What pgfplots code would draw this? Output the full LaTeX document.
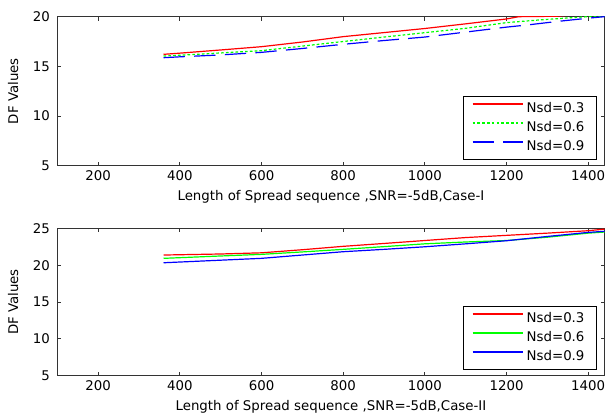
\documentclass[border=0pt]{standalone}
\usepackage{fontspec}
\setmainfont{DejaVu Sans}
\usepackage{pgfplots}
\pgfplotsset{compat=1.18}

\definecolor{mred}{RGB}{255,0,0}
\definecolor{mgreen}{RGB}{0,255,0}
\definecolor{mblue}{RGB}{0,0,255}

\pgfplotsset{
  dfax/.style={
    scale only axis,
    width=410.25pt,
    xmin=100, xmax=1440,
    xtick={200,400,...,1400},
    tick align=inside,
    major tick length=3pt,
    axis line style={line width=0.6pt, black!80},
    every tick/.style={black!80, line width=0.6pt},
    /pgf/number format/assume math mode=true,
    /pgf/number format/1000 sep={},
    ticklabel style={font=\fontsize{10}{12}\selectfont},
    yticklabel style={xshift=-2pt},
    ylabel={DF Values},
    ylabel style={at={(axis description cs:0,0.5)}, anchor=center, rotate=0, yshift=33.2pt},
    xlabel style={at={(axis description cs:0.5,0)}, anchor=center, yshift=-23.5pt},
    legend cell align=left,
    legend style={
      at={(0.986,0.038)}, anchor=south east,
      draw=black, line width=0.6pt, fill=white,
      inner xsep=6.5pt, inner ysep=2.3pt, row sep=0pt,
      font=\fontsize{10}{12}\selectfont,
      nodes={inner xsep=2.5pt, inner ysep=0pt, text height=9.5pt, text depth=4.75pt},
    },
    legend image code/.code={\draw[#1, line width=1.2pt] (0pt,3.75pt) -- (37.5pt,3.75pt);},
    clip=true,
  },
  s1/.style={draw=mred, line width=0.9pt},
  s2/.style={draw=mgreen, line width=0.9pt},
  s3/.style={draw=mblue, line width=0.9pt},
}

\begin{document}
\begin{tikzpicture}[font=\fontsize{10}{12}\selectfont]
\path[use as bounding box] (-43pt,12.5pt) rectangle (411.35pt,-298.7pt);

\begin{axis}[dfax,
  at={(0pt,0pt)}, anchor=north west,
  height=111.75pt,
  ymin=5, ymax=20, ytick={5,10,15,20},
  xlabel={Length of Spread sequence ,SNR=-5dB,Case-I},
]
\addplot[s1] coordinates {
  (360,16.21) (400,16.33) (500,16.65) (600,16.98) (700,17.45) (800,17.99)
  (900,18.40) (1000,18.81) (1100,19.28) (1200,19.77) (1230,20.00) (1320,20.04) (1440,20.40)
};
\addlegendentry{Nsd=0.3}
\addplot[s2, dash pattern=on 2pt off 1.6pt] coordinates {
  (360,16.04) (400,16.12) (500,16.35) (600,16.58) (700,17.04) (800,17.50)
  (900,17.95) (1000,18.39) (1100,18.83) (1200,19.40) (1280,19.67) (1360,19.90) (1400,20.00) (1440,20.05)
};
\addlegendentry{Nsd=0.6}
\addplot[s3, dash pattern=on 16pt off 7pt] coordinates {
  (360,15.87) (400,15.96) (500,16.15) (600,16.41) (700,16.80) (800,17.22)
  (900,17.60) (1000,17.95) (1100,18.45) (1150,18.70) (1200,18.95) (1250,19.16)
  (1320,19.50) (1400,19.85) (1440,20.00)
};
\addlegendentry{Nsd=0.9}
\end{axis}

\begin{axis}[dfax,
  at={(0pt,-158.7pt)}, anchor=north west,
  height=110.5pt,
  ymin=5, ymax=25, ytick={5,10,15,20,25},
  xlabel={Length of Spread sequence ,SNR=-5dB,Case-II},
]
\addplot[s1] coordinates {
  (360,21.38) (400,21.42) (500,21.52) (600,21.68) (700,22.10) (800,22.56)
  (900,22.95) (1000,23.35) (1100,23.75) (1200,24.05) (1300,24.35) (1400,24.68) (1440,24.90)
};
\addlegendentry{Nsd=0.3}
\addplot[s2] coordinates {
  (360,20.93) (400,21.02) (500,21.25) (600,21.47) (700,21.80) (800,22.15)
  (900,22.52) (1000,22.90) (1100,23.15) (1200,23.35) (1300,23.80) (1400,24.35) (1440,24.50)
};
\addlegendentry{Nsd=0.6}
\addplot[s3] coordinates {
  (360,20.33) (400,20.43) (500,20.68) (600,20.93) (700,21.38) (800,21.83)
  (900,22.15) (1000,22.50) (1100,22.90) (1200,23.32) (1300,23.90) (1400,24.45) (1440,24.60)
};
\addlegendentry{Nsd=0.9}
\end{axis}
\end{tikzpicture}
\end{document}
